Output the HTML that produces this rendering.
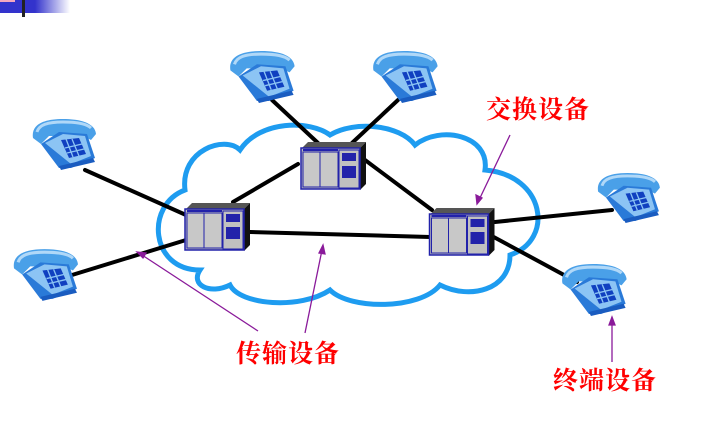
<!DOCTYPE html>
<html><head><meta charset="utf-8"><style>
html,body{margin:0;padding:0;background:#fff;width:727px;height:429px;overflow:hidden;position:relative}
.lbl{position:absolute;color:#f00;font-family:"Liberation Serif","Noto Serif CJK SC",serif;font-size:25px;font-weight:bold;line-height:1;letter-spacing:1px;white-space:nowrap}
</style></head><body>
<div style="position:absolute;left:0;top:0;width:70px;height:13px;background:linear-gradient(90deg,#3333cc 0,#3333cc 35px,#fff 70px)"></div>
<div style="position:absolute;left:0;top:0;width:15px;height:2px;background:#f4a8c0"></div>
<div style="position:absolute;left:22px;top:0;width:3px;height:17px;background:#222"></div>
<svg width="727" height="429" style="position:absolute;left:0;top:0">
<defs>
<symbol id="ph" viewBox="0 0 66 52">
 <path d="M2 20 C0 8 10 1 32 1 C52 1 64 6 65 16 L60 22 L52 18 L18 18 L10 26 Z" fill="#4aa0e8"/>
 <path d="M6 14 C8 7 16 4 32 4 C46 4 56 6 60 10" fill="none" stroke="#b0d8f8" stroke-width="3"/>
 <path d="M10 26 L28 14 L56 16 L64 40 L40 50 L28 50 Z" fill="#2a7ad8"/>
 <path d="M14 25 L32 16 L54 18 L60 38 L40 46 Z" fill="#8cc4f4"/>
 <path d="M28 48 L62 40 L64 44 L30 52 Z" fill="#1a5cc0"/>
 <path d="M30 22 L48 20 L55 36 L38 40 Z" fill="#1040c0"/>
 <g stroke="#8cc4f4" stroke-width="1.3">
  <path d="M34 30 L51 26 M36 35 L53 31 M35 21 L42 39 M41 21 L48 38"/>
 </g>
</symbol>
<symbol id="sw" viewBox="0 0 66 48">
 <path d="M2 6 L8 0 L66 0 L60 6 Z" fill="#555"/>
 <path d="M60 6 L66 0 L66 42 L60 48 Z" fill="#111"/>
 <rect x="1" y="6" width="59" height="41" fill="#bbb" stroke="#2222aa" stroke-width="1.5"/>
 <rect x="3" y="10" width="35" height="35" fill="#c8c8c8" stroke="#2222aa" stroke-width="1"/>
 <line x1="20" y1="10" x2="20" y2="45" stroke="#2222aa"/>
 <rect x="39" y="8" width="20" height="38" fill="#c0c0c0" stroke="#2222aa" stroke-width="1"/>
 <rect x="42" y="11" width="14" height="8" fill="#2222aa"/>
 <rect x="42" y="24" width="14" height="12" fill="#2222aa"/>
 <rect x="3" y="7" width="35" height="2" fill="#2222aa"/>
</symbol>
</defs>
<path d="M200 270 C150 270 145 205 185 190 C180 150 225 135 240 150 C260 120 310 120 330 135 C355 120 400 125 415 145 C440 125 490 135 485 170 C545 175 555 240 510 255 C510 290 470 300 440 285 C420 310 350 310 330 290 C300 310 240 305 230 285 C210 295 190 285 200 270 Z" fill="#fff" stroke="#1e9cf0" stroke-width="5"/>
<g stroke="#000" stroke-width="4" stroke-linecap="round">
<line x1="85" y1="170" x2="186" y2="215"/>
<line x1="72" y1="275" x2="186" y2="240"/>
<line x1="233" y1="202" x2="298" y2="164"/>
<line x1="250" y1="232" x2="430" y2="237"/>
<line x1="365" y1="160" x2="432" y2="210"/>
<line x1="272" y1="100" x2="318" y2="143"/>
<line x1="398" y1="100" x2="352" y2="143"/>
<line x1="495" y1="222" x2="612" y2="210"/>
<line x1="490" y1="235" x2="577" y2="282"/>
</g>
<use href="#ph" x="30" y="118" width="68" height="52"/>
<use href="#ph" x="228" y="50" width="68" height="53"/>
<use href="#ph" x="371" y="50" width="68" height="53"/>
<use href="#ph" x="12" y="248" width="67" height="53"/>
<use href="#ph" x="595" y="172" width="67" height="51"/>
<use href="#ph" x="560" y="263" width="68" height="53"/>
<use href="#sw" x="184" y="203" width="66" height="48"/>
<use href="#sw" x="300" y="142" width="66" height="48"/>
<use href="#sw" x="428" y="208" width="67" height="48"/>
<g stroke="#8a1a9a" stroke-width="1.3" fill="#8a1a9a">
<line x1="510" y1="135" x2="479" y2="200"/><path d="M477 204 L476 195 L482 198 Z"/>
<line x1="258" y1="331" x2="142" y2="255"/><path d="M137 252 L146 253 L143 258 Z"/>
<line x1="305" y1="333" x2="322" y2="250"/><path d="M323 245 L325 254 L319 253 Z"/>
<line x1="612" y1="362" x2="612" y2="322"/><path d="M612 317 L615 325 L609 325 Z"/>
</g>
</svg>
<div class="lbl" style="left:486px;top:98px">交换设备</div>
<div class="lbl" style="left:236px;top:342px">传输设备</div>
<div class="lbl" style="left:553px;top:369px">终端设备</div>
</body></html>
